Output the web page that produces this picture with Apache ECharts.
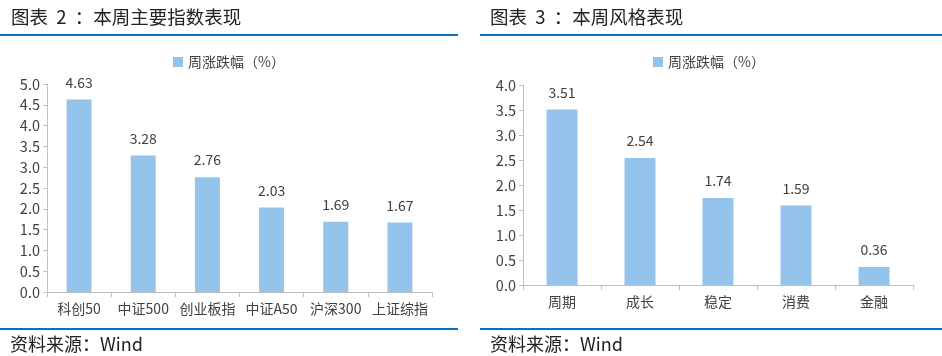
<!DOCTYPE html>
<html><head><meta charset="utf-8">
<script src="https://cdn.jsdelivr.net/npm/echarts@6/dist/echarts.min.js"></script>
<style>html,body{margin:0;padding:0;background:#fff}#c{width:942px;height:356px}</style>
</head><body><div id="c"></div>
<script>
const indexCats = ['科创50','中证500','创业板指','中证A50','沪深300','上证综指'];
const indexVals = [4.63, 3.28, 2.76, 2.03, 1.69, 1.67];
const styleCats = ['周期','成长','稳定','消费','金融'];
const styleVals = [3.51, 2.54, 1.74, 1.59, 0.36];
const seriesName = '周涨跌幅（%）';
const F = '"Noto Sans CJK SC", "Noto Sans", sans-serif';
const barColor = '#94C4EC';
const axisGray = '#BFBFBF';
const txt = '#404040';

const chart = echarts.init(document.getElementById('c'));
function yAx(gi, max){
  return {gridIndex:gi, type:'value', min:0, max:max, interval:0.5,
    axisLine:{show:true, lineStyle:{color:axisGray}},
    axisTick:{show:true, length:4, lineStyle:{color:axisGray}},
    splitLine:{show:false},
    axisLabel:{fontFamily:F, fontSize:14.5, color:txt, margin:7, formatter:v=>v.toFixed(1)}};
}
function xAx(gi, cats){
  return {gridIndex:gi, type:'category', data:cats,
    axisLine:{show:true, lineStyle:{color:axisGray}},
    axisTick:{show:true, length:5, alignWithLabel:false, lineStyle:{color:axisGray}},
    axisLabel:{fontFamily:F, fontSize:14, color:txt, margin:10, interval:0}};
}
function bar(gi, vals, bw){
  return {name:seriesName, type:'bar', xAxisIndex:gi, yAxisIndex:gi, data:vals,
    barWidth:bw, itemStyle:{color:barColor},
    label:{show:true, position:'top', distance:10, fontFamily:F, fontSize:14, color:txt,
      formatter:p=>p.value.toFixed(2)}};
}
function leg(x){
  return {left:x, top:55, padding:0, itemWidth:10, itemHeight:10, itemGap:5, icon:'rect',
    data:[seriesName], selectedMode:false,
    textStyle:{fontFamily:F, fontSize:14, color:txt}};
}
const tStyle = {fontFamily:F, fontSize:18.5, fontWeight:'normal', color:'#222'};
const sStyle = {fontFamily:F, fontSize:18, fontWeight:'normal', color:'#222'};
chart.setOption({
  animation:false,
  title:[
    {text:'图表  2  ：本周主要指数表现', left:11, top:8, padding:0, textStyle:tStyle},
    {text:'图表  3  ：本周风格表现', left:490, top:8, padding:0, textStyle:tStyle},
    {text:'资料来源：Wind', left:10, top:335, padding:0, textStyle:sStyle},
    {text:'资料来源：Wind', left:490, top:335, padding:0, textStyle:sStyle}
  ],
  legend:[leg(173), leg(653)],
  grid:[
    {left:47, right:510, top:84, bottom:64},
    {left:523, right:29, top:85, bottom:71}
  ],
  xAxis:[xAx(0, indexCats), xAx(1, styleCats)],
  yAxis:[yAx(0, 5), yAx(1, 4)],
  series:[bar(0, indexVals, 25), bar(1, styleVals, 31)],
  graphic:[
    {type:'rect', shape:{x:0, y:34, width:458, height:2}, style:{fill:'#0A72C2'}},
    {type:'rect', shape:{x:480, y:34, width:462, height:2}, style:{fill:'#0A72C2'}},
    {type:'rect', shape:{x:0, y:328, width:458, height:2}, style:{fill:'#0A72C2'}},
    {type:'rect', shape:{x:480, y:328, width:462, height:2}, style:{fill:'#0A72C2'}}
  ]
});
</script></body></html>
